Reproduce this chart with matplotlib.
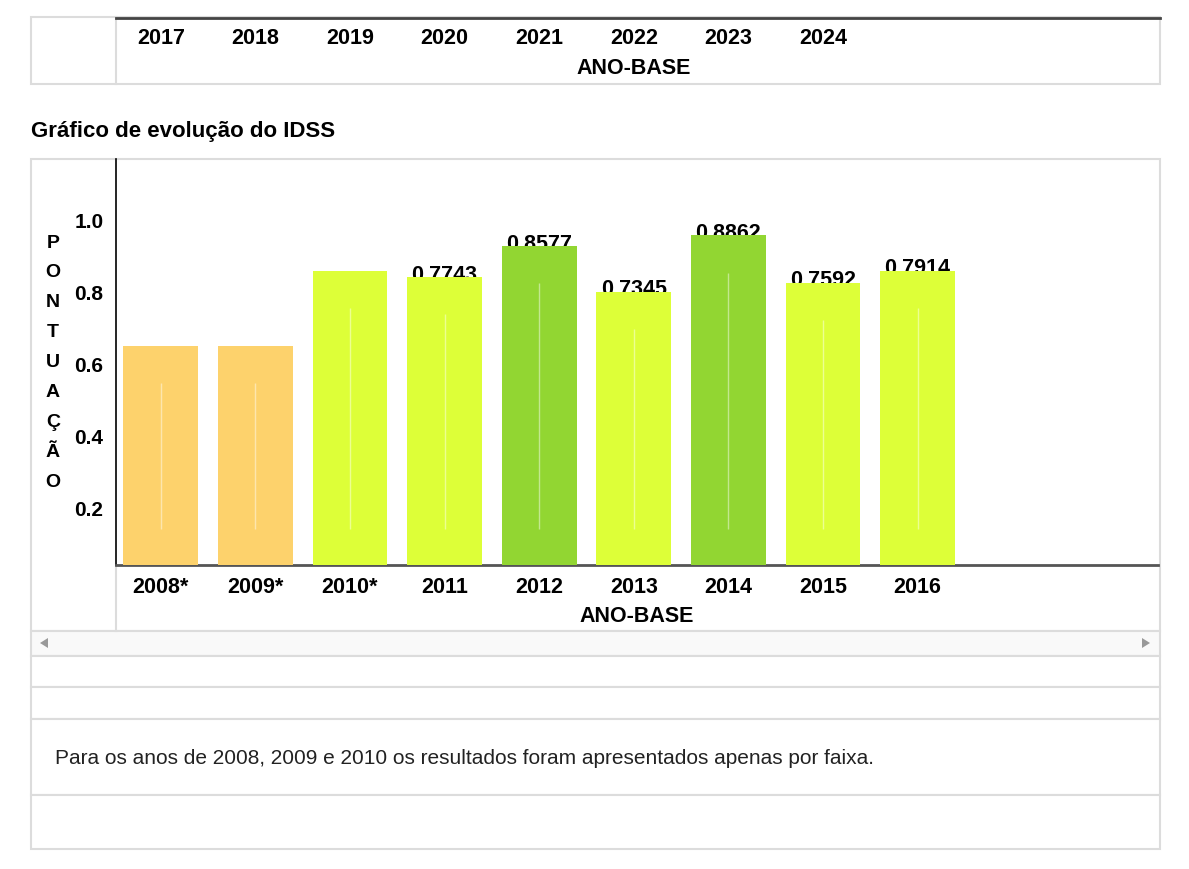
import matplotlib.pyplot as plt
from matplotlib.patches import Rectangle, Polygon

plt.rcParams['font.family'] = ['Liberation Sans', 'DejaVu Sans']

# data
anos = ['2008*', '2009*', '2010*', '2011', '2012', '2013', '2014', '2015', '2016']
idss = [0.59, 0.59, 0.79, 0.7743, 0.8577, 0.7345, 0.8862, 0.7592, 0.7914]
rotulos = [None, None, None, '0.7743', '0.8577', '0.7345', '0.8862', '0.7592', '0.7914']
anos_topo = ['2017', '2018', '2019', '2020', '2021', '2022', '2023', '2024']
yticks = [0.2, 0.4, 0.6, 0.8, 1.0]
nota = 'Para os anos de 2008, 2009 e 2010 os resultados foram apresentados apenas por faixa.'

def cor_faixa(v):
    if v >= 0.8:
        return '#92d632'
    if v >= 0.6:
        return '#ddff38'
    return '#fdd26c'

W, H = 1189, 870
fig = plt.figure(figsize=(W / 100, H / 100), dpi=100)

# page background in pixel coords
bg = fig.add_axes([0, 0, 1, 1])
bg.set_xlim(0, W)
bg.set_ylim(H, 0)
bg.axis('off')

borda = '#dcdcdc'
def caixa(x0, y0, x1, y1, fc='white'):
    bg.add_patch(Rectangle((x0, y0), x1 - x0, y1 - y0, fc=fc, ec=borda, lw=1.5))

caixa(31, 18, 1160, 85)
bg.plot([116, 116], [18, 85], color=borda, lw=1.5)
bg.plot([116, 1160], [19, 19], color='#444444', lw=2)
bg.text(31, 132, 'Gráfico de evolução do IDSS', fontsize=16, fontweight='bold',
        va='center', ha='left')
caixa(31, 160, 1160, 632)
bg.plot([116, 116], [566, 632], color=borda, lw=1.5)
caixa(31, 632, 1160, 657, fc='#f9f9f9')
bg.add_patch(Polygon([[40, 644], [48, 639], [48, 649]], closed=True, fc='#999999', ec='none'))
bg.add_patch(Polygon([[1150, 644], [1142, 639], [1142, 649]], closed=True, fc='#999999', ec='none'))
caixa(31, 657, 1160, 688)
caixa(31, 688, 1160, 720)
caixa(31, 720, 1160, 796)
caixa(31, 796, 1160, 850)
bg.text(55, 759, nota, fontsize=15, va='center', ha='left', color='#222222')

# letters of the vertical y label
for i, letra in enumerate('PONTUAÇÃO'):
    bg.text(53, 243 + 30 * i, letra, fontsize=14, fontweight='bold',
            ha='center', va='center')

# header with next years (same slot spacing as the chart)
ax_l, ax_r = 116 / W, 1158 / W
x0 = -0.5 + 2.5 / 94.6
x1 = x0 + 1042 / 94.6
top = fig.add_axes([ax_l, 1 - 85 / H, ax_r - ax_l, (85 - 19) / H])
top.set_xlim(x0, x1)
top.set_ylim(0, 1)
top.axis('off')
for i, a in enumerate(anos_topo):
    top.text(i, 0.71, a, fontsize=15.5, fontweight='bold', ha='center', va='center')
top.text(5, 0.25, 'ANO-BASE', fontsize=15.5, fontweight='bold', ha='center', va='center')

# main chart
ax = fig.add_axes([ax_l, 1 - 566 / H, ax_r - ax_l, (566 - 160) / H])
ax.patch.set_alpha(0)
x = list(range(len(anos)))
cores = [cor_faixa(v) for v in idss]
ax.bar(x, idss, width=0.79, color=cores, zorder=3)
ax.vlines(x, 0.097, [v - 0.1 for v in idss], colors='white', alpha=0.45, lw=1, zorder=4)
for xi, v, r in zip(x, idss, rotulos):
    if r:
        ax.text(xi, v - 0.007, r, fontsize=15.5, fontweight='bold', ha='center',
                va='baseline', zorder=2)
ax.set_xlim(x0, x1)
ax.set_ylim(0, 406 / 372)
ax.set_xticks(x)
ax.set_xticklabels(anos, fontsize=15.5, fontweight='bold')
ax.tick_params(axis='x', length=0, pad=8)
ax.set_xlabel('ANO-BASE', fontsize=15.5, fontweight='bold', labelpad=6)
ax.set_yticks([])
for s in ['top', 'right']:
    ax.spines[s].set_visible(False)
ax.spines['left'].set_color('black')
ax.spines['left'].set_linewidth(1.2)
ax.spines['bottom'].set_color('#555555')
ax.spines['bottom'].set_linewidth(2)

# score axis labels
ay = ax.twinx()
ay.yaxis.tick_left()
ay.set_ylim(15 / 360, 421 / 360)
ay.set_yticks(yticks)
ay.set_yticklabels(['%.1f' % t for t in yticks], fontsize=15, fontweight='bold')
ay.tick_params(axis='y', length=0, pad=9)
for s in ay.spines.values():
    s.set_visible(False)

fig.savefig('out.png', dpi=100)
